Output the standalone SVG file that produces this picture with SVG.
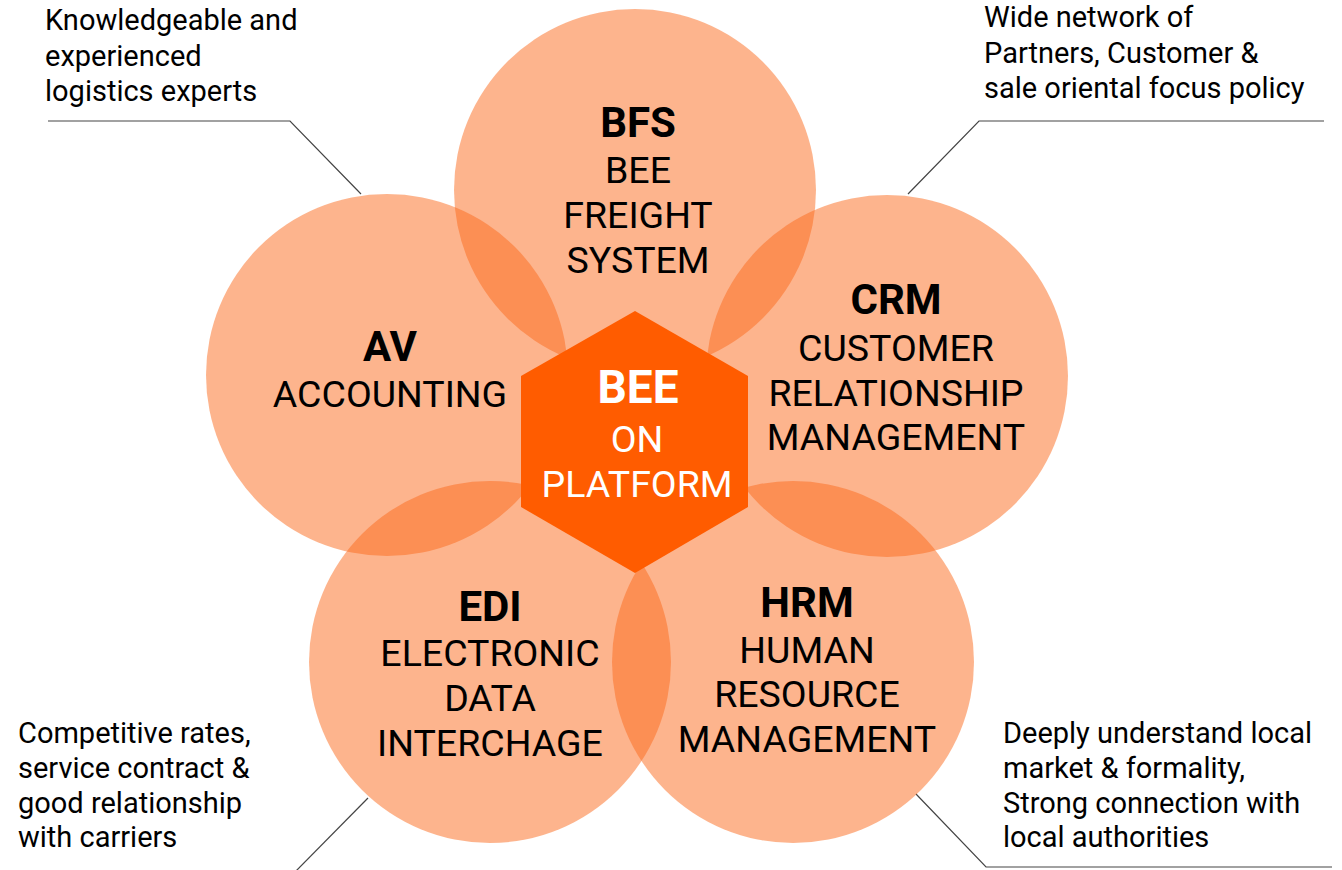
<svg xmlns="http://www.w3.org/2000/svg" width="1342" height="870" viewBox="0 0 1342 870">
<style>
.petal{fill:#FC6A1C;fill-opacity:0.5}
.hex{fill:#FF5C00}
.t{font-family:Roboto,"Liberation Sans",sans-serif;fill:#000;text-anchor:middle}
.b{font-weight:bold;font-size:42px}
.r{font-size:37.5px}
.w{fill:#fff}
.note{font-family:Roboto,"Liberation Sans",sans-serif;font-size:29px;fill:#000}
.lead{fill:none;stroke:#444;stroke-width:1.2}
</style>
<rect width="1342" height="870" fill="#fff"/>
<g id="connectors">
<polyline class="lead" points="48,121 290,121 361,194"/>
<polyline class="lead" points="908,194 979,121 1324,121"/>
<polyline class="lead" points="368,798 296,871"/>
<polyline class="lead" points="916,794 986,867 1332,867"/>
</g>
<g id="bfs">
<circle class="petal" cx="635" cy="190" r="181"/>
</g>
<g id="av">
<circle class="petal" cx="387" cy="375" r="181"/>
</g>
<g id="crm">
<circle class="petal" cx="887" cy="376" r="181"/>
</g>
<g id="edi">
<circle class="petal" cx="490" cy="662" r="181"/>
</g>
<g id="hrm">
<circle class="petal" cx="793" cy="662" r="181"/>
</g>
<g id="bfs-text">
<text class="t b" x="638" y="137">BFS</text>
<text class="t r" x="638" y="183">BEE</text>
<text class="t r" x="638" y="228">FREIGHT</text>
<text class="t r" x="638" y="273">SYSTEM</text>
</g>
<g id="av-text">
<text class="t b" x="390" y="361">AV</text>
<text class="t r" x="390" y="407">ACCOUNTING</text>
</g>
<g id="crm-text">
<text class="t b" x="896" y="314">CRM</text>
<text class="t r" x="896" y="361">CUSTOMER</text>
<text class="t r" x="896" y="406">RELATIONSHIP</text>
<text class="t r" x="896" y="450">MANAGEMENT</text>
</g>
<g id="edi-text">
<text class="t b" x="490" y="621">EDI</text>
<text class="t r" x="490" y="666">ELECTRONIC</text>
<text class="t r" x="490" y="711">DATA</text>
<text class="t r" x="490" y="756">INTERCHAGE</text>
</g>
<g id="hrm-text">
<text class="t b" x="807" y="617">HRM</text>
<text class="t r" x="807" y="663">HUMAN</text>
<text class="t r" x="807" y="707">RESOURCE</text>
<text class="t r" x="807" y="752">MANAGEMENT</text>
</g>
<g id="center">
<polygon class="hex" points="635,311 748,376 748,507 635,573 521,507 521,376"/>
<text class="t w" x="638" y="403" style="font-weight:bold;font-size:46px">BEE</text>
<text class="t r w" x="637" y="452">ON</text>
<text class="t r w" x="637" y="497">PLATFORM</text>
</g>
<g id="note-tl">
<text class="note" x="45" y="30">Knowledgeable and</text>
<text class="note" x="45" y="65.5">experienced</text>
<text class="note" x="45" y="101">logistics experts</text>
</g>
<g id="note-tr">
<text class="note" x="984" y="27">Wide network of</text>
<text class="note" x="984" y="62.5">Partners, Customer &amp;</text>
<text class="note" x="984" y="98">sale oriental focus policy</text>
</g>
<g id="note-bl">
<text class="note" x="18" y="743">Competitive rates,</text>
<text class="note" x="18" y="778">service contract &amp;</text>
<text class="note" x="18" y="812.5">good relationship</text>
<text class="note" x="18" y="847">with carriers</text>
</g>
<g id="note-br">
<text class="note" x="1003" y="743">Deeply understand local</text>
<text class="note" x="1003" y="778">market &amp; formality,</text>
<text class="note" x="1003" y="812.5">Strong connection with</text>
<text class="note" x="1003" y="847">local authorities</text>
</g>
</svg>
